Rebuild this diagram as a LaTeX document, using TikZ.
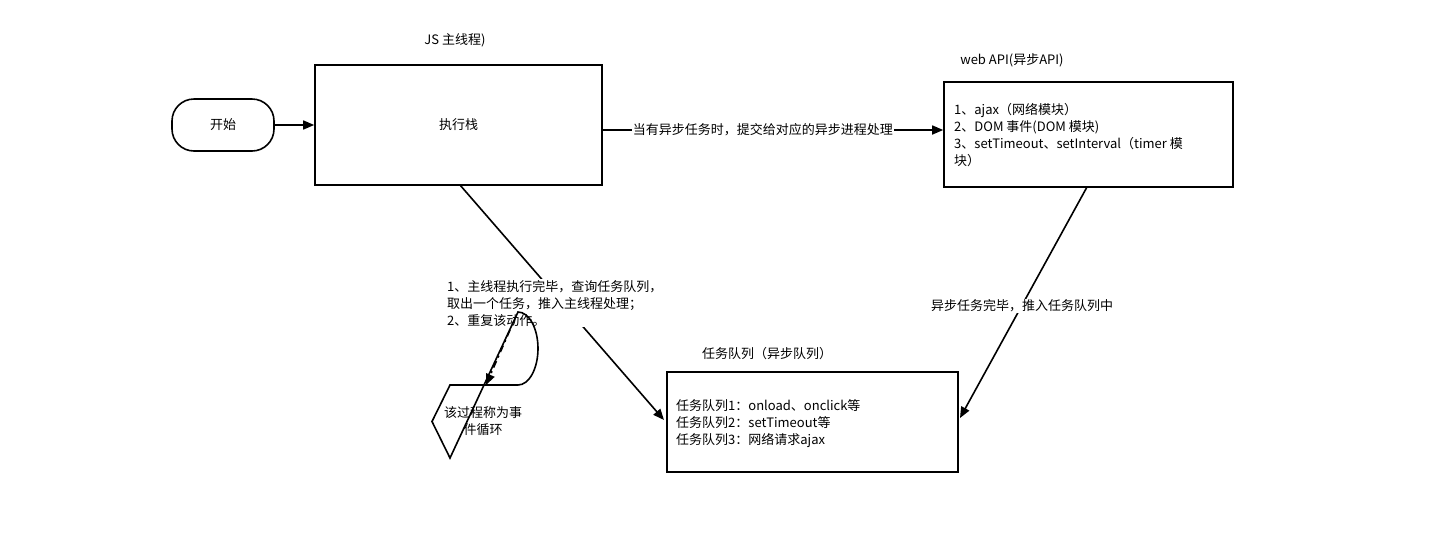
\documentclass[tikz,border=0pt]{standalone}
\usepackage{fontspec}
\setmainfont{Noto Sans CJK SC}
\usetikzlibrary{arrows.meta}
\begin{document}
\begin{tikzpicture}[x=1pt,y=-1pt,
  box/.style={draw,line width=1.6pt},
  lbl/.style={font=\fontsize{13}{17}\selectfont,inner sep=1pt},
  ml/.style={lbl,align=left,anchor=north west},
  arr/.style={line width=1.6pt,-{Triangle[length=11pt,width=9pt]}}]
\useasboundingbox (0,0) rectangle (1449,547);
\node[box,rounded corners=22pt,minimum width=102pt,minimum height=52pt,lbl] (start) at (223,125) {开始};
\node[box,minimum width=287pt,minimum height=120pt,lbl] (stack) at (458.5,125) {执行栈};
\node[lbl] (jsl) at (455,40) {JS 主线程)};
\node[box,minimum width=289pt,minimum height=105pt] (web) at (1088.5,134.5) {};
\node[lbl] (webl) at (1012,60) {web API(异步API)};
\node[ml] (webt) at (953,102) {1、ajax（网络模块）\\2、DOM 事件(DOM 模块)\\3、setTimeout、setInterval（timer 模\\块）};
\node[box,minimum width=291pt,minimum height=100pt] (queue) at (812.5,422) {};
\node[lbl] (ql) at (767,354) {任务队列（异步队列）};
\node[ml] (qt) at (675,398) {任务队列1：onload、onclick等\\任务队列2：setTimeout等\\任务队列3：网络请求ajax};
\draw[arr] (start.east) -- (stack.west);
\draw[arr] (stack.east|-0,130) -- (web.west|-0,130) node[pos=0.47,lbl,fill=white] (al) {当有异步任务时，提交给对应的异步进程处理};
\coordinate (wb) at (1087,187);
\coordinate (qr) at (960,418);
\draw[arr] (wb) -- (qr);
\node[lbl,fill=white] (wl) at (1022,306) {异步任务完毕，推入任务队列中};
\coordinate (sb) at (460,185);
\coordinate (ql2) at (664,420);
\draw[arr] (sb) -- (ql2);
\node[ml,fill=white] (el) at (446,279) {1、主线程执行完毕，查询任务队列，\\取出一个任务，推入主线程处理；\\2、重复该动作。};
\coordinate (ds) at (510,330);
\draw[arr,dash pattern=on 7pt off 4pt on 2pt off 4pt] (ds) -- (486,385) coordinate (de);
\draw[line width=1.6pt] (450,385) -- (518,385) arc[start angle=90,end angle=-90,x radius=20,y radius=36.5] -- (450,458) -- (432,421.5) -- cycle;
\node[lbl,align=center] (loop) at (483,421) {该过程称为事\\件循环};
\end{tikzpicture}
\end{document}
